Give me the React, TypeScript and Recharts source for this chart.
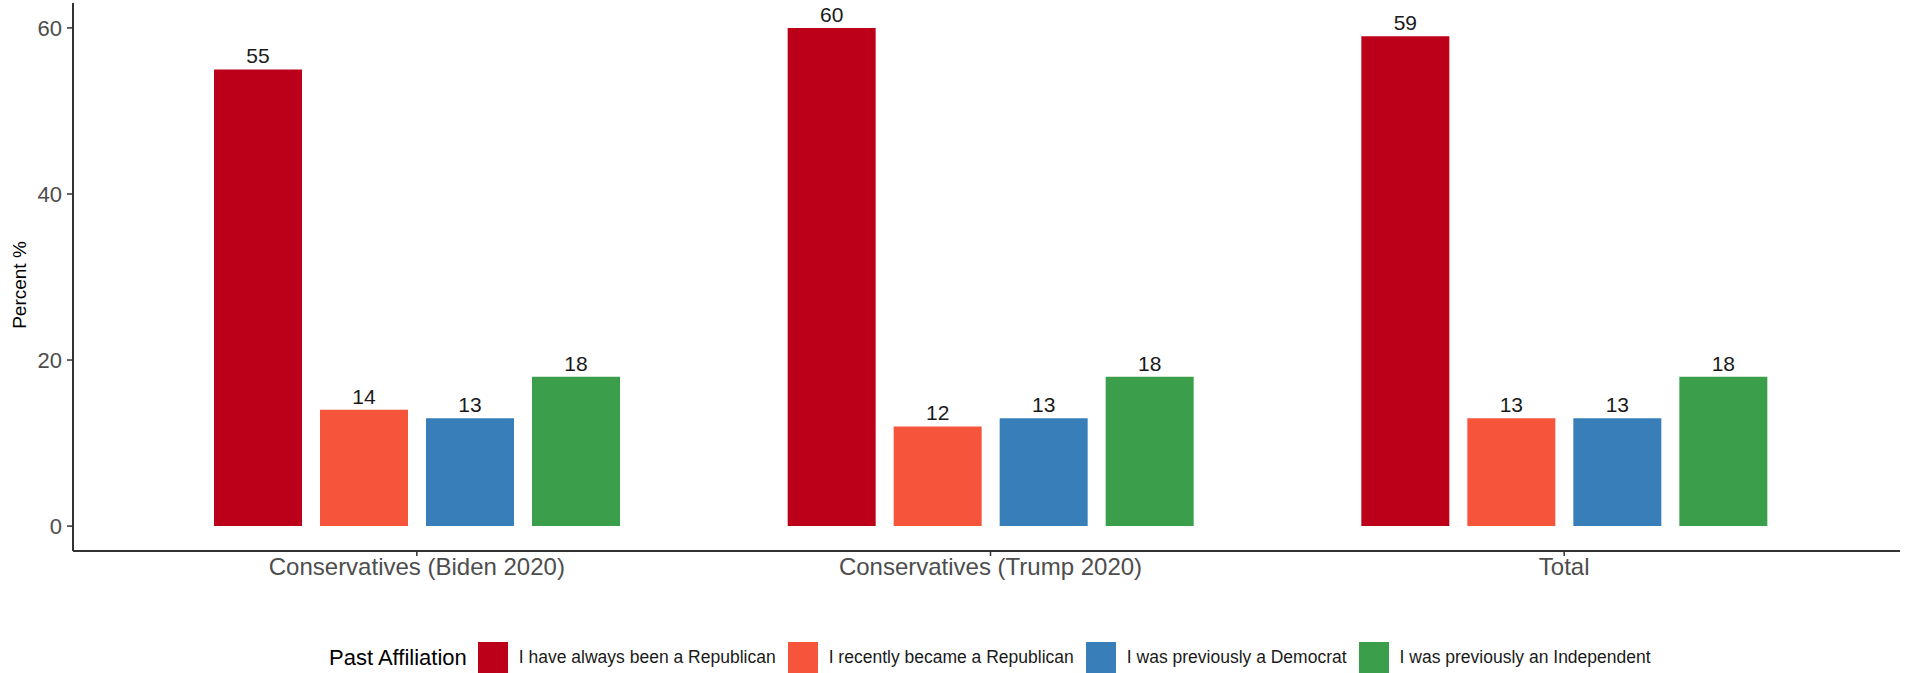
import React from "react";
import { BarChart, Bar, XAxis, YAxis, LabelList } from "recharts";

const categories = ["Conservatives (Biden 2020)", "Conservatives (Trump 2020)", "Total"];
const alwaysRepublican = [55, 60, 59];
const recentlyRepublican = [14, 12, 13];
const previouslyDemocrat = [13, 13, 13];
const previouslyIndependent = [18, 18, 18];
const seriesNames = [
  "I have always been a Republican",
  "I recently became a Republican",
  "I was previously a Democrat",
  "I was previously an Independent",
];
const seriesColors = ["#BD0019", "#F6553B", "#387EB8", "#3A9E4A"];
const yTicks = [0, 20, 40, 60];
const yDomain = [-3, 63];

const seriesValues = [alwaysRepublican, recentlyRepublican, previouslyDemocrat, previouslyIndependent];
const keys = ["s0", "s1", "s2", "s3"];
const data = categories.map((c, i) => {
  const row: any = { category: c };
  keys.forEach((k, j) => (row[k] = seriesValues[j][i]));
  return row;
});

const FONT = "'Liberation Sans', Arial, Helvetica, sans-serif";

const YLabel = (props: any) => {
  const vb = props.viewBox || { x: 0, y: 0, width: 0, height: 0 };
  const cx = vb.x + 19;
  const cy = vb.y + vb.height / 2 + 8;
  return (
    <text
      x={cx}
      y={cy}
      transform={`rotate(-90, ${cx}, ${cy})`}
      textAnchor="middle"
      dominantBaseline="central"
      fill="#000"
      fontSize={19}
      fontFamily={FONT}
    >
      Percent %
    </text>
  );
};

export default function App() {
  return (
    <div style={{ position: "absolute", left: 0, top: 0, width: 1911, height: 673, background: "#fff", fontFamily: FONT }}>
      <BarChart
        width={1911}
        height={673}
        data={data}
        margin={{ top: 3, right: 11, left: 0, bottom: 82 }}
        barGap={18}
        barSize={88}
        style={{ fontFamily: FONT }}
      >
        <XAxis
          dataKey="category"
          padding={{ left: 57, right: 49 }}
          height={40}
          axisLine={{ stroke: "#333", strokeWidth: 2 }}
          tickLine={{ stroke: "#333", strokeWidth: 1.5 }}
          tickSize={5}
          tickMargin={2}
          tick={{ fill: "#4d4d4d", fontSize: 24, fontFamily: FONT }}
          interval={0}
        />
        <YAxis
          width={73}
          domain={yDomain}
          ticks={yTicks}
          axisLine={{ stroke: "#333", strokeWidth: 2 }}
          tickLine={{ stroke: "#333", strokeWidth: 1.5 }}
          tickSize={6}
          tickMargin={5}
          tick={{ fill: "#4d4d4d", fontSize: 22, fontFamily: FONT }}
          label={{ content: YLabel }}
        />
        {keys.map((k, j) => (
          <Bar key={k} dataKey={k} name={seriesNames[j]} fill={seriesColors[j]} isAnimationActive={false}>
            <LabelList dataKey={k} position="top" offset={6} fill="#1a1a1a" fontSize={21} fontFamily={FONT} />
          </Bar>
        ))}
      </BarChart>
      <div
        style={{
          position: "absolute",
          left: 329,
          top: 642,
          height: 31,
          display: "flex",
          alignItems: "center",
          whiteSpace: "nowrap",
        }}
      >
        <span style={{ fontSize: 22, color: "#000", marginRight: 11 }}>Past Affiliation</span>
        {seriesNames.map((n, j) => (
          <div key={n} style={{ display: "flex", alignItems: "center", marginRight: 12 }}>
            <div style={{ width: 30, height: 31, background: seriesColors[j], marginRight: 11 }} />
            <span style={{ fontSize: 17.5, color: "#1a1a1a" }}>{n}</span>
          </div>
        ))}
      </div>
    </div>
  );
}
